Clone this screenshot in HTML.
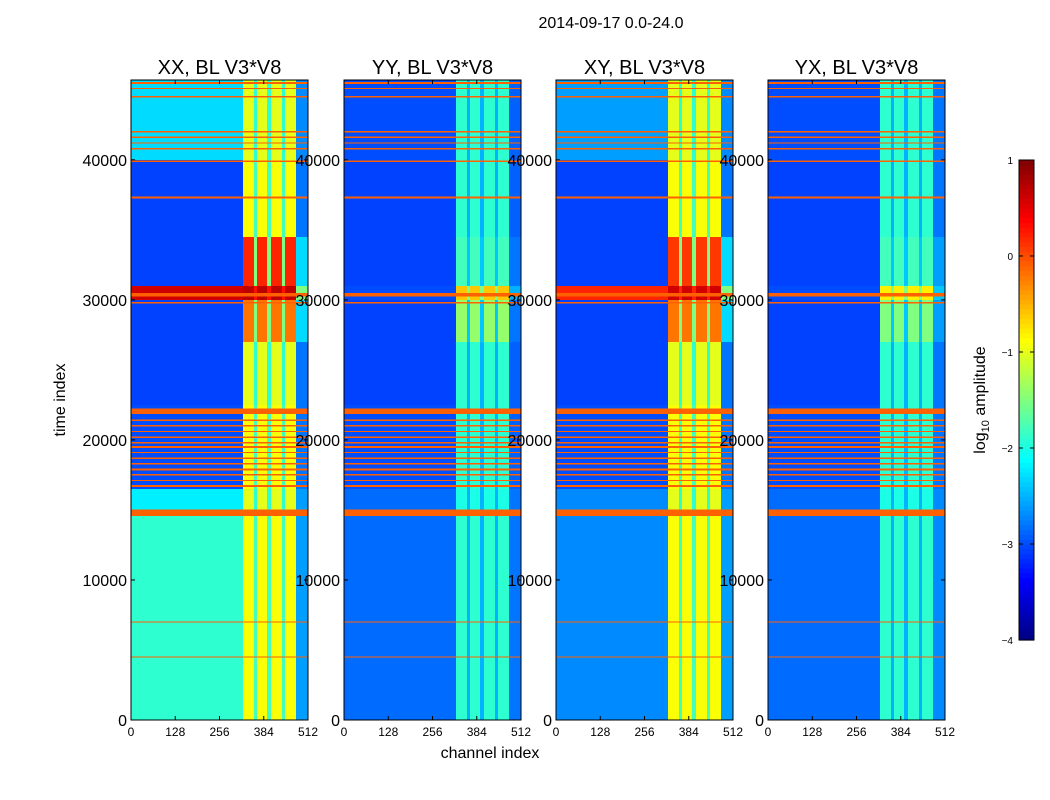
<!DOCTYPE html>
<html><head><meta charset="utf-8">
<style>
body{margin:0;background:#fff;}
svg{display:block;font-family:"Liberation Sans",sans-serif;}
</style></head>
<body>
<svg id="fig" width="1050" height="800" viewBox="0 0 1050 800">
<text x="611" y="28" font-size="16" text-anchor="middle">2014-09-17 0.0-24.0</text>
<text x="490" y="758" font-size="16" text-anchor="middle">channel index</text>
<text transform="translate(65,400) rotate(-90)" font-size="16" text-anchor="middle">time index</text>
<g id="panels"></g>
<g id="cbar"></g>
</svg>
<script>
(function(){
const panelNames = ["XX, BL V3*V8","YY, BL V3*V8","XY, BL V3*V8","YX, BL V3*V8"];
const panelLeft = [131,344,556,768];
const xTicks = [0,128,256,384,512];
const yTicks = [0,10000,20000,30000,40000];
const tMax = 45700;
const segStart = [0,14600,16500,22500,27000,30000,31000,34500,40000];
const segEnd   = [14600,16500,22500,27000,30000,31000,34500,40000,45700];
const lowVals = [
  [-1.9,-2.2,-3.0,-3.05,-3.05,0.6,-3.05,-3.05,-2.3],
  [-2.85,-2.85,-3.0,-3.05,-3.05,-3.0,-3.05,-3.05,-3.0],
  [-2.7,-2.7,-3.0,-3.05,-3.05,0.2,-3.05,-3.05,-2.6],
  [-2.85,-2.85,-3.0,-3.05,-3.05,-3.0,-3.05,-3.05,-3.0]
];
const colStart = [324,364,405,445];
const colEnd   = [356,393,437,477];
const colVals = [
  [-0.9,-1.0,-0.9,-1.0,-0.2,0.7,0.2,-0.9,-1.0],
  [-1.9,-2.0,-1.9,-1.9,-1.4,-0.6,-1.8,-1.9,-1.9],
  [-0.9,-1.0,-0.9,-1.0,-0.2,0.6,0.1,-0.9,-1.0],
  [-1.9,-2.0,-1.9,-1.9,-1.5,-0.8,-1.8,-1.9,-1.9]
];
const gapStart = [356,393,437];
const gapEnd   = [364,405,445];
const gapVals = [
  [-1.8,-1.9,-1.8,-1.9,-1.5,0.3,-1.5,-1.8,-1.9],
  [-2.5,-2.5,-2.5,-2.5,-2.4,-1.5,-2.4,-2.5,-2.5],
  [-1.8,-1.9,-1.8,-1.9,-1.5,0.2,-1.5,-1.8,-1.9],
  [-2.5,-2.5,-2.5,-2.5,-2.4,-1.5,-2.4,-2.5,-2.5]
];
const edgeStart = 477, edgeEnd = 512;
const edgeVals = [
  [-2.6,-2.6,-2.8,-2.8,-2.3,-1.5,-2.3,-2.8,-2.7],
  [-2.8,-2.8,-2.9,-2.9,-2.8,-2.5,-2.8,-2.9,-2.9],
  [-2.6,-2.6,-2.8,-2.8,-2.3,-1.5,-2.3,-2.8,-2.7],
  [-2.7,-2.7,-2.8,-2.8,-2.6,-2.4,-2.6,-2.8,-2.8]
];
const rfiTimes = [4500,7000,14800,16700,17100,17500,17900,18300,18700,19100,19500,19800,20200,20600,21000,21400,22050,29800,30350,37300,39900,40800,41200,41600,42000,44500,45100,45500];
const rfiWidth = [80,80,450,150,100,100,150,100,120,100,120,100,120,100,100,100,400,120,250,150,120,100,100,100,100,80,80,150];
const cbTicks = [-4,-3,-2,-1,0,1];

function jet(v){
  const t=Math.max(0,Math.min(1,(v+4)/5));
  const c=x=>Math.round(255*Math.max(0,Math.min(1,1.5-Math.abs(x))));
  return `rgb(${c(4*t-3)},${c(4*t-2)},${c(4*t-1)})`;
}
const NS="http://www.w3.org/2000/svg";
function el(tag,attrs,parent,text){
  const e=document.createElementNS(NS,tag);
  for(const k in attrs) e.setAttribute(k,attrs[k]);
  if(text!==undefined) e.textContent=text;
  parent.appendChild(e); return e;
}
const pTop=80,pBot=720,pw=177;
const yScale=t=>pBot-(t/tMax)*(pBot-pTop);
const panelsG=document.getElementById('panels');
panelNames.forEach((pname,p)=>{
  const x0=panelLeft[p];
  const xs=c=>x0+c/512*pw;
  const g=el('g',{},panelsG);
  
  
  const hm=el('g',{'shape-rendering':'crispEdges'},g);
  
  
  function cell(c0,c1,y1,y2,v){
    const r=el('rect',{x:xs(c0),y:y1,width:xs(c1)-xs(c0),height:y2-y1,fill:jet(v)},hm);
    
    
  }
  segStart.forEach((s,i)=>{
    const y1=yScale(segEnd[i]),y2=yScale(s);
    cell(0,512,y1,y2,lowVals[p][i]);
    colStart.forEach((c,j)=>cell(c,colEnd[j],y1,y2,colVals[p][i]));
    gapStart.forEach((c,j)=>cell(c,gapEnd[j],y1,y2,gapVals[p][i]));
    cell(edgeStart,edgeEnd,y1,y2,edgeVals[p][i]);
  });
  rfiTimes.forEach((t,i)=>{
    const y1=yScale(t+rfiWidth[i]/2),y2=yScale(t-rfiWidth[i]/2);
    const r=el('rect',{x:xs(0),y:y1,width:pw,height:Math.max(1.2,y2-y1),fill:jet(-0.1)},hm);
    
    
  });
  el('rect',{x:x0,y:pTop,width:pw,height:pBot-pTop,fill:'none',stroke:'#000','stroke-width':1},g);
  const tt=el('text',{x:x0+pw/2,y:74,'font-size':20,'text-anchor':'middle'},g,pname);
  
  
  xTicks.forEach(v=>{
    const x=xs(v);
    el('line',{x1:x,x2:x,y1:pBot,y2:pBot-4,stroke:'#000'},g);
    el('line',{x1:x,x2:x,y1:pTop,y2:pTop+4,stroke:'#000'},g);
    const l=el('text',{x:x,y:736,'font-size':12,'text-anchor':'middle'},g,String(v));
    
    
  });
  yTicks.forEach(v=>{
    const y=yScale(v);
    el('line',{x1:x0,x2:x0+4,y1:y,y2:y,stroke:'#000'},g);
    el('line',{x1:x0+pw,x2:x0+pw-4,y1:y,y2:y,stroke:'#000'},g);
    const l=el('text',{x:x0-4,y:y+6,'font-size':16,'text-anchor':'end'},g,String(v));
    
    
  });
});
const cb=document.getElementById('cbar');
const cbTop=160,cbBot=640,cbX=1019,cbW=15;
const cbY=v=>cbBot-(v+4)/5*(cbBot-cbTop);
for(let i=0;i<100;i++){
  const v=-4+5*(i+0.5)/100;
  el('rect',{x:cbX,y:cbY(-4+5*(i+1)/100),width:cbW,height:(cbBot-cbTop)/100+0.6,fill:jet(v)},cb);
}
el('rect',{x:cbX,y:cbTop,width:cbW,height:cbBot-cbTop,fill:'none',stroke:'#000'},cb);
cbTicks.forEach(v=>{
  const y=cbY(v);
  el('line',{x1:cbX,x2:cbX+4,y1:y,y2:y,stroke:'#000'},cb);
  el('line',{x1:cbX+cbW,x2:cbX+cbW-4,y1:y,y2:y,stroke:'#000'},cb);
  const l=el('text',{x:1013,y:y+4,'font-size':10,'text-anchor':'end'},cb,(v<0?'\u2212':'')+Math.abs(v));
  
  
});
const cl=el('text',{transform:'translate(985,400) rotate(-90)','font-size':16,'text-anchor':'middle'},cb);


el('tspan',{},cl,'log');
el('tspan',{'font-size':11,dy:4},cl,'10');
el('tspan',{dy:-4},cl,' amplitude');
})();
</script>
</body></html>
